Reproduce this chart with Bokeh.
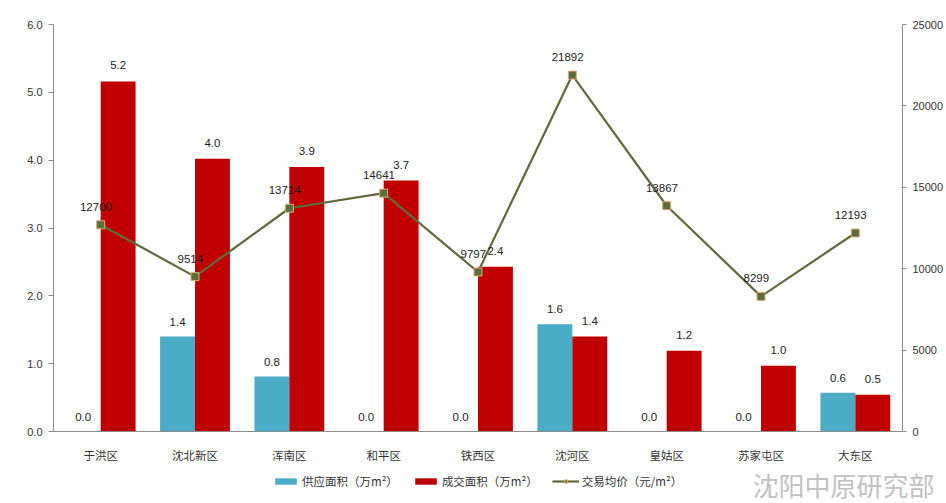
from bokeh.plotting import figure
from bokeh.layouts import column
from bokeh.models import (ColumnDataSource, FactorRange, Range1d, LinearAxis,
                          Legend, LegendItem, Label, NumeralTickFormatter, FixedTicker)
from bokeh.transform import dodge
from bokeh.core.properties import value
from bokeh.embed import file_html
from bokeh.resources import INLINE

# ---- data ----
districts = ["于洪区", "沈北新区", "浑南区", "和平区", "铁西区", "沈河区", "皇姑区", "苏家屯区", "大东区"]
supply_area = [0.0, 1.40, 0.81, 0.0, 0.0, 1.58, 0.0, 0.0, 0.57]      # 供应面积（万m²）
deal_area = [5.16, 4.02, 3.90, 3.70, 2.43, 1.40, 1.19, 0.97, 0.54]   # 成交面积（万m²）
avg_price = [12700, 9514, 13714, 14641, 9797, 21892, 13867, 8299, 12193]  # 交易均价（元/m²）
left_ticks = [0, 1, 2, 3, 4, 5, 6]
right_ticks = [0, 5000, 10000, 15000, 20000, 25000]

series_names = ["供应面积（万m²）", "成交面积（万m²）", "交易均价（元/m²）"]
watermark = "沈阳中原研究部"

BLUE = "#4bacc6"
RED = "#c00000"
OLIVE = "#5d6b3d"
MARK_EDGE = "#d9b070"
CJK = "Noto Sans CJK SC"
NUM = "Liberation Sans"

src = ColumnDataSource(dict(
    cat=districts,
    supply=supply_area,
    deal=deal_area,
    price=avg_price,
    supply_lbl=["%.1f" % v for v in supply_area],
    deal_lbl=["%.1f" % v for v in deal_area],
    price_lbl=[str(v) for v in avg_price],
))

p = figure(width=946, height=465, x_range=FactorRange(factors=districts),
           y_range=Range1d(0, 6), output_backend="svg", toolbar_location=None,
           min_border_left=53, min_border_right=43, min_border_top=24, min_border_bottom=34)
p.extra_y_ranges = {"price": Range1d(0, 25000)}
p.outline_line_color = None
p.xgrid.visible = False
p.ygrid.visible = False
p.background_fill_color = "white"
p.border_fill_color = "white"

bw = 0.37
p.vbar(x=dodge("cat", -bw / 2, range=p.x_range), top="supply", width=bw,
       source=src, fill_color=BLUE, line_color=None)
p.vbar(x=dodge("cat", bw / 2, range=p.x_range), top="deal", width=bw,
       source=src, fill_color=RED, line_color=None)
p.line(x="cat", y="price", source=src, y_range_name="price",
       line_color=OLIVE, line_width=2.2)
p.scatter(x="cat", y="price", source=src, y_range_name="price", marker="square",
          size=8, fill_color=OLIVE, line_color=MARK_EDGE, line_width=1)

# labels
p.text(x=dodge("cat", -bw / 2, range=p.x_range), y="supply", text="supply_lbl", source=src,
       text_align="center", text_baseline="bottom", y_offset=-11,
       text_font=value(NUM), text_font_size="11.5px", text_color="#222222")
p.text(x=dodge("cat", bw / 2, range=p.x_range), y="deal", text="deal_lbl", source=src,
       text_align="center", text_baseline="bottom", y_offset=-12,
       text_font=value(NUM), text_font_size="11.5px", text_color="#222222")
p.text(x=dodge("cat", -0.05, range=p.x_range), y="price", text="price_lbl", source=src,
       y_range_name="price", text_align="center", text_baseline="bottom", y_offset=-14,
       text_font=value(NUM), text_font_size="11.5px", text_color="#222222")

# axes
ax = p.xaxis[0]
ax.axis_line_color = "#8c8c8c"
ax.major_tick_line_color = None
ax.minor_tick_line_color = None
ax.major_label_text_font = CJK
ax.major_label_text_font_size = "11.5px"
ax.major_label_text_color = "#333333"
ax.major_label_standoff = 9

ay = p.yaxis[0]
ay.ticker = FixedTicker(ticks=left_ticks)
ay.formatter = NumeralTickFormatter(format="0.0")
ay.axis_line_color = "#8c8c8c"
ay.major_tick_line_color = "#8c8c8c"
ay.major_tick_out = 5
ay.major_tick_in = 0
ay.minor_tick_line_color = None
ay.major_label_text_font = NUM
ay.major_label_text_font_size = "11px"
ay.major_label_text_color = "#333333"
ay.major_label_standoff = 6

ry = LinearAxis(y_range_name="price", ticker=FixedTicker(ticks=right_ticks),
                formatter=NumeralTickFormatter(format="0"))
ry.axis_line_color = "#8c8c8c"
ry.major_tick_line_color = "#8c8c8c"
ry.major_tick_out = 4
ry.major_tick_in = 0
ry.minor_tick_line_color = None
ry.major_label_text_font = NUM
ry.major_label_text_font_size = "11px"
ry.major_label_text_color = "#333333"
ry.major_label_standoff = 6
p.add_layout(ry, "right")

# ---- legend strip (separate figure below the chart; its marks lie far outside its view) ----
q = figure(width=946, height=38, output_backend="svg", toolbar_location=None,
           x_axis_type=None, y_axis_type=None, min_border=0, frame_align=False,
           x_range=FactorRange(factors=districts), y_range=Range1d(1e6, 1e6 + 1))
q.outline_line_color = None
q.xgrid.visible = False
q.ygrid.visible = False
q.background_fill_color = "white"
q.border_fill_color = "white"
g1 = q.vbar(x="cat", top="supply", width=bw, source=src, fill_color=BLUE, line_color=None)
g2 = q.vbar(x="cat", top="deal", width=bw, source=src, fill_color=RED, line_color=None)
g3 = q.line(x="cat", y="price", source=src, line_color=OLIVE, line_width=2.2)
g4 = q.scatter(x="cat", y="price", source=src, marker="square", size=7,
               fill_color=OLIVE, line_color=MARK_EDGE, line_width=1)

legend = Legend(items=[
    LegendItem(label=series_names[0], renderers=[g1]),
    LegendItem(label=series_names[1], renderers=[g2]),
    LegendItem(label=series_names[2], renderers=[g3, g4]),
], orientation="horizontal", location=(272, 14),
    glyph_width=27, glyph_height=8, spacing=14, label_standoff=3,
    label_text_font=CJK, label_text_font_size="11.5px", label_text_color="#333333",
    border_line_color=None, background_fill_alpha=0, padding=2, margin=0)
q.add_layout(legend, "center")

wm = Label(x=752, y=1, x_units="screen", y_units="screen", text=watermark,
           text_font=CJK, text_font_size="26px", text_color="#c2c2c2")
q.add_layout(wm)

layout = column(p, q, spacing=0)
html = file_html(layout, INLINE)
open("out.html", "w").write(html)
